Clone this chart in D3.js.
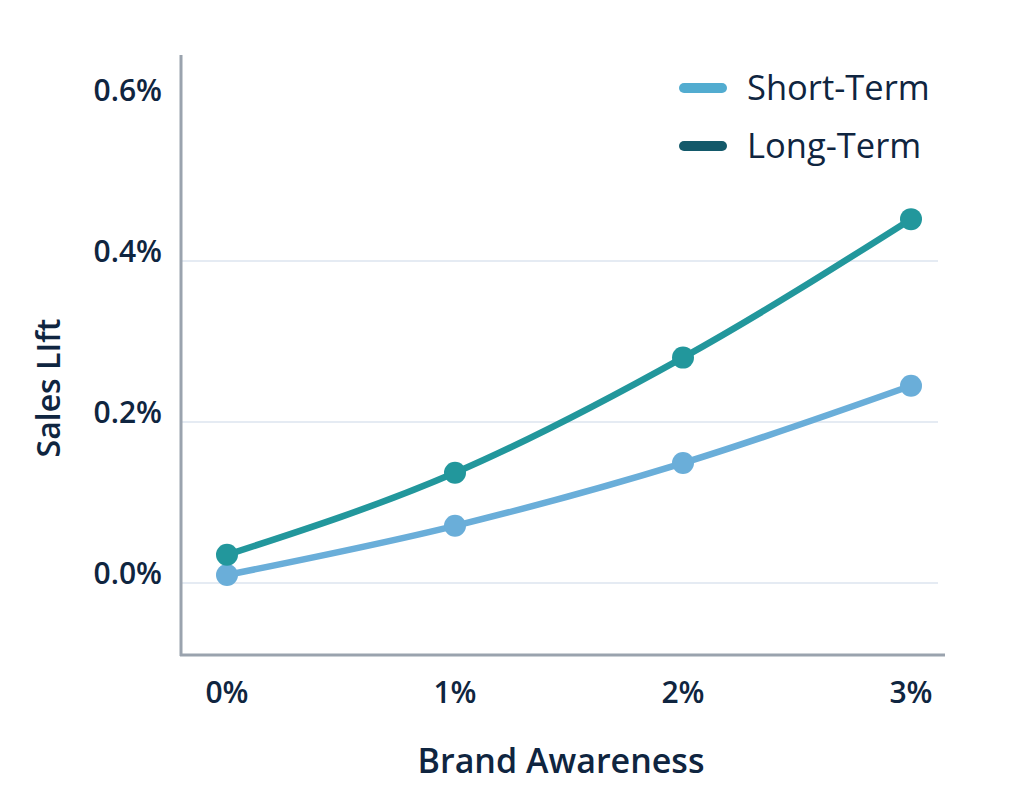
<!DOCTYPE html>
<html>
<head>
<meta charset="utf-8">
<script src="https://cdn.jsdelivr.net/npm/d3@7"></script>
<style>
  body { margin: 0; background: #fff; }
  svg { display: block; font-family: "Open Sans", "Noto Sans", sans-serif; }
</style>
</head>
<body>
<div id="vis"></div>
<script>
// data
var awareness = [0, 1, 2, 3];               // Brand Awareness, %
var shortTerm = [0.01, 0.071, 0.149, 0.245]; // Sales Lift, %
var longTerm = [0.035, 0.137, 0.28, 0.452];
var yTicks = [0, 0.2, 0.4, 0.6];
var gridTicks = [0, 0.2, 0.4];
var seriesNames = ["Short-Term", "Long-Term"];

var width = 1009, height = 812;
var ink = "#0f2540";

var svg = d3.select("#vis").append("svg")
  .attr("width", width)
  .attr("height", height);

var x = d3.scaleLinear().domain([0, 3]).range([227, 911]);
var y = d3.scaleLinear().domain([0, 0.4]).range([583, 261]);

// gridlines
svg.append("g")
  .selectAll("line")
  .data(gridTicks)
  .enter().append("line")
  .attr("x1", 181)
  .attr("x2", 938)
  .attr("y1", function(d) { return y(d); })
  .attr("y2", function(d) { return y(d); })
  .attr("stroke", "#dde4ef")
  .attr("stroke-width", 1.5);

// axis lines
svg.append("line")
  .attr("x1", 181).attr("x2", 181)
  .attr("y1", 55).attr("y2", 656)
  .attr("stroke", "#9aa3ae").attr("stroke-width", 3);
svg.append("line")
  .attr("x1", 180).attr("x2", 945)
  .attr("y1", 655).attr("y2", 655)
  .attr("stroke", "#9aa3ae").attr("stroke-width", 3);

// y tick labels
svg.append("g")
  .selectAll("text")
  .data(yTicks)
  .enter().append("text")
  .attr("x", 162)
  .attr("y", function(d) { return y(d) + 1; })
  .attr("text-anchor", "end")
  .attr("font-size", 30)
  .attr("font-weight", 600)
  .attr("fill", ink)
  .text(function(d) { return d3.format(".1f")(d) + "%"; });

// x tick labels
svg.append("g")
  .selectAll("text")
  .data(awareness)
  .enter().append("text")
  .attr("x", function(d) { return x(d); })
  .attr("y", 703)
  .attr("text-anchor", "middle")
  .attr("font-size", 30)
  .attr("font-weight", 600)
  .attr("fill", ink)
  .text(function(d) { return d + "%"; });

// axis titles
svg.append("text")
  .attr("x", 561)
  .attr("y", 773)
  .attr("text-anchor", "middle")
  .attr("font-size", 34)
  .attr("font-weight", 600)
  .attr("fill", ink)
  .text("Brand Awareness");

svg.append("text")
  .attr("transform", "translate(60,388) rotate(-90)")
  .attr("text-anchor", "middle")
  .attr("font-size", 32)
  .attr("font-weight", 600)
  .attr("fill", ink)
  .text("Sales LIft");

// lines and points
var series = [
  { name: seriesNames[0], values: shortTerm, color: "#6aaed9" },
  { name: seriesNames[1], values: longTerm, color: "#22979c" }
];

var line = d3.line()
  .x(function(d, i) { return x(awareness[i]); })
  .y(function(d) { return y(d); })
  .curve(d3.curveMonotoneX);

series.forEach(function(s) {
  svg.append("path")
    .datum(s.values)
    .attr("d", line)
    .attr("fill", "none")
    .attr("stroke", s.color)
    .attr("stroke-width", 6.5)
    .attr("stroke-linecap", "round");

  svg.append("g")
    .selectAll("circle")
    .data(s.values)
    .enter().append("circle")
    .attr("cx", function(d, i) { return x(awareness[i]); })
    .attr("cy", function(d) { return y(d); })
    .attr("r", 11)
    .attr("fill", s.color);
});

// legend
var legendColors = ["#52acd0", "#13596a"];
var legend = svg.append("g")
  .selectAll("g")
  .data(seriesNames)
  .enter().append("g")
  .attr("transform", function(d, i) { return "translate(0," + (88 + i * 58) + ")"; });

legend.append("line")
  .attr("x1", 684).attr("x2", 722)
  .attr("y1", 0).attr("y2", 0)
  .attr("stroke", function(d, i) { return legendColors[i]; })
  .attr("stroke-width", 10)
  .attr("stroke-linecap", "round");

legend.append("text")
  .attr("x", 747)
  .attr("y", 12)
  .attr("font-size", 34.5)
  .attr("font-weight", 500)
  .attr("fill", ink)
  .text(function(d) { return d; });
</script>
</body>
</html>
